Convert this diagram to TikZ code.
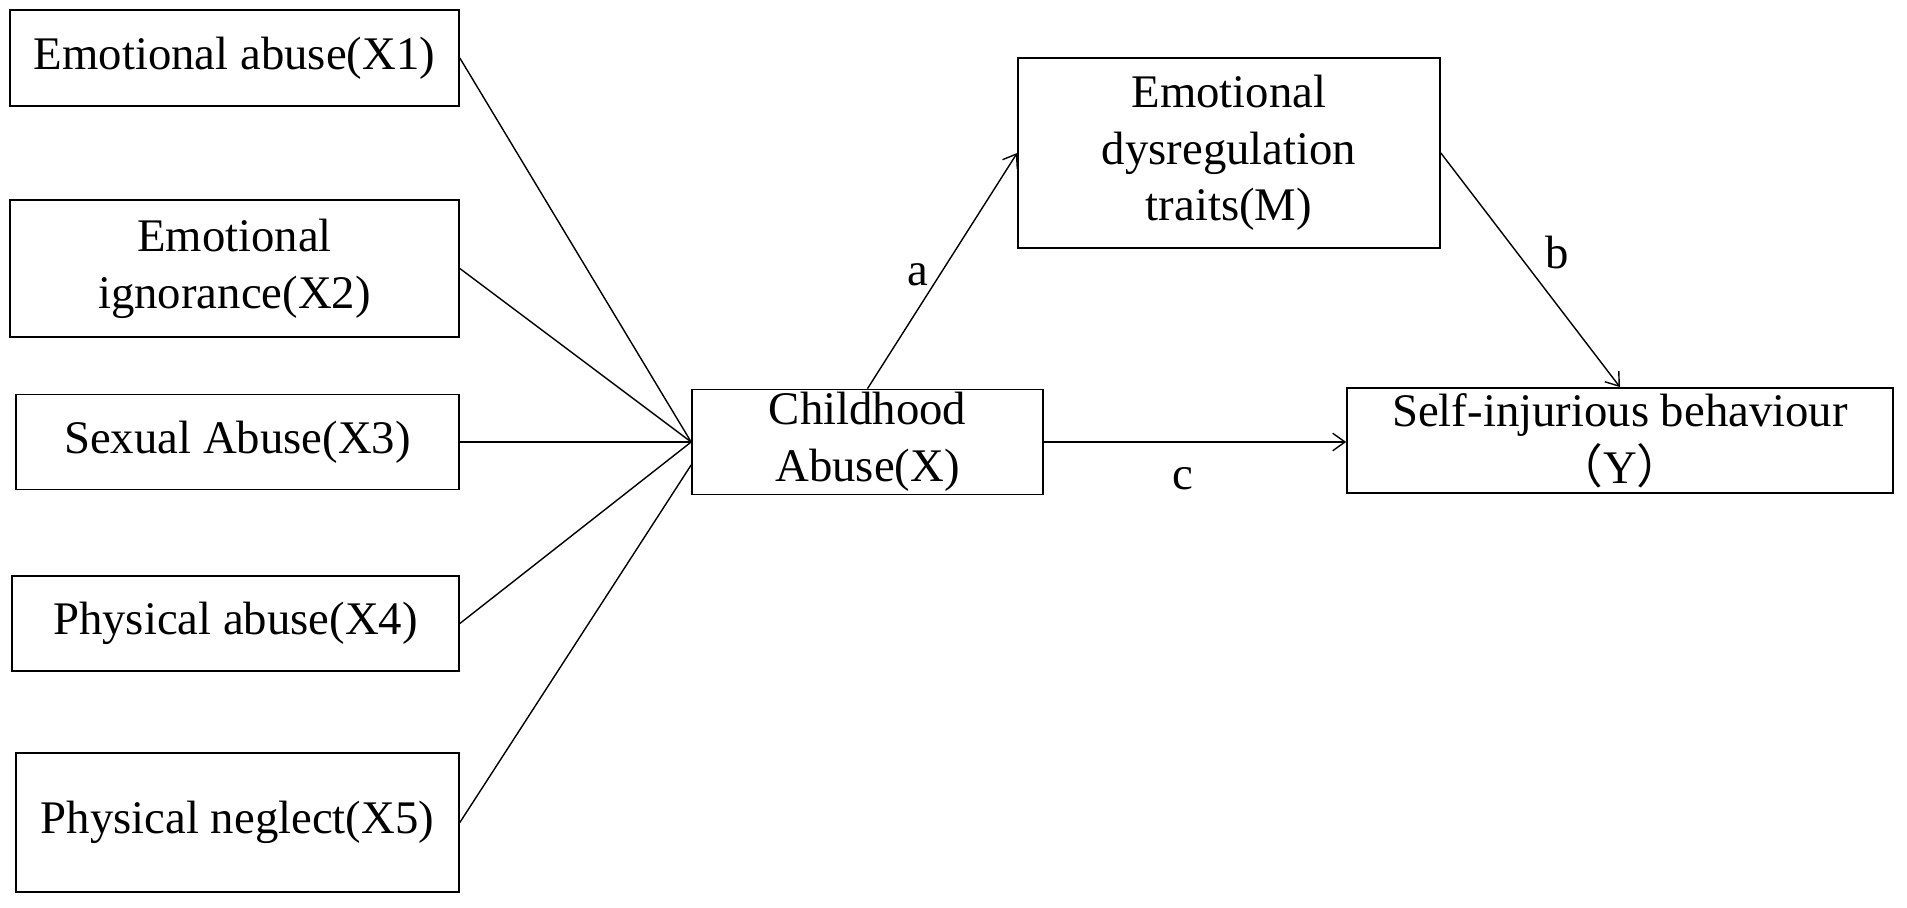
\documentclass[tikz,border=0pt]{standalone}
\usepackage{fontspec}
\setmainfont{Liberation Serif}
\newfontfamily\cjk{Noto Sans CJK SC}
\usetikzlibrary{arrows.meta}
\begin{document}
\begin{tikzpicture}[x=0.02cm, y=-0.02cm,
	box/.style={draw, line width=1pt, align=center, inner sep=0pt, font=\fontsize{26.6pt}{32.3pt}\selectfont},
	link/.style={line width=0.8pt},
	arr/.style={line width=0.8pt, -{Straight Barb[length=7pt, width=10pt]}},
	lab/.style={inner sep=0pt, font=\fontsize{26.6pt}{32.3pt}\selectfont}]
	\useasboundingbox (0, 0) rectangle (1907, 908);
	% abuse types
	\node[box, minimum width=8.98cm, minimum height=1.92cm] (x1) at (234.5, 58) {Emotional abuse(X1)};
	\node[box, minimum width=8.98cm, minimum height=2.74cm] (x2) at (234.5, 268.5) {Emotional\\ignorance(X2)};
	\node[box, minimum width=8.86cm, minimum height=1.90cm] (x3) at (237.5, 442) {Sexual Abuse(X3)};
	\node[box, minimum width=8.94cm, minimum height=1.90cm] (x4) at (235.5, 623.5) {Physical abuse(X4)};
	\node[box, minimum width=8.86cm, minimum height=2.78cm] (x5) at (237.5, 822.5) {Physical neglect(X5)};
	% model
	\node[box, minimum width=7.02cm, minimum height=2.10cm] (ca) at (867.5, 442) {Childhood\\Abuse(X)};
	\node[box, minimum width=8.44cm, minimum height=3.80cm] (m) at (1229, 153) {Emotional\\dysregulation\\traits(M)};
	\node[box, minimum width=10.92cm, minimum height=2.10cm] (sib) at (1620, 440.5) {Self-injurious behaviour\\{\cjk （}Y{\cjk ）}};
	% links
	\draw[link] (x1.east) -- (ca.west);
	\draw[link] (x2.east) -- (ca.west);
	\draw[link] (x3.east) -- (ca.west);
	\draw[link] (x4.east) -- (ca.west);
	\draw[link] (x5.east) -- ([yshift=-0.46cm]ca.west);
	\draw[arr] (ca.north) -- (m.west);
	\draw[arr] (m.east) -- (sib.north);
	\draw[arr] (ca.east) -- (ca.east -| sib.west);
	\node[lab] (la) at (918, 275) {a};
	\node[lab] (lb) at (1557, 253) {b};
	\node[lab] (lc) at (1183, 479) {c};
\end{tikzpicture}
\end{document}
